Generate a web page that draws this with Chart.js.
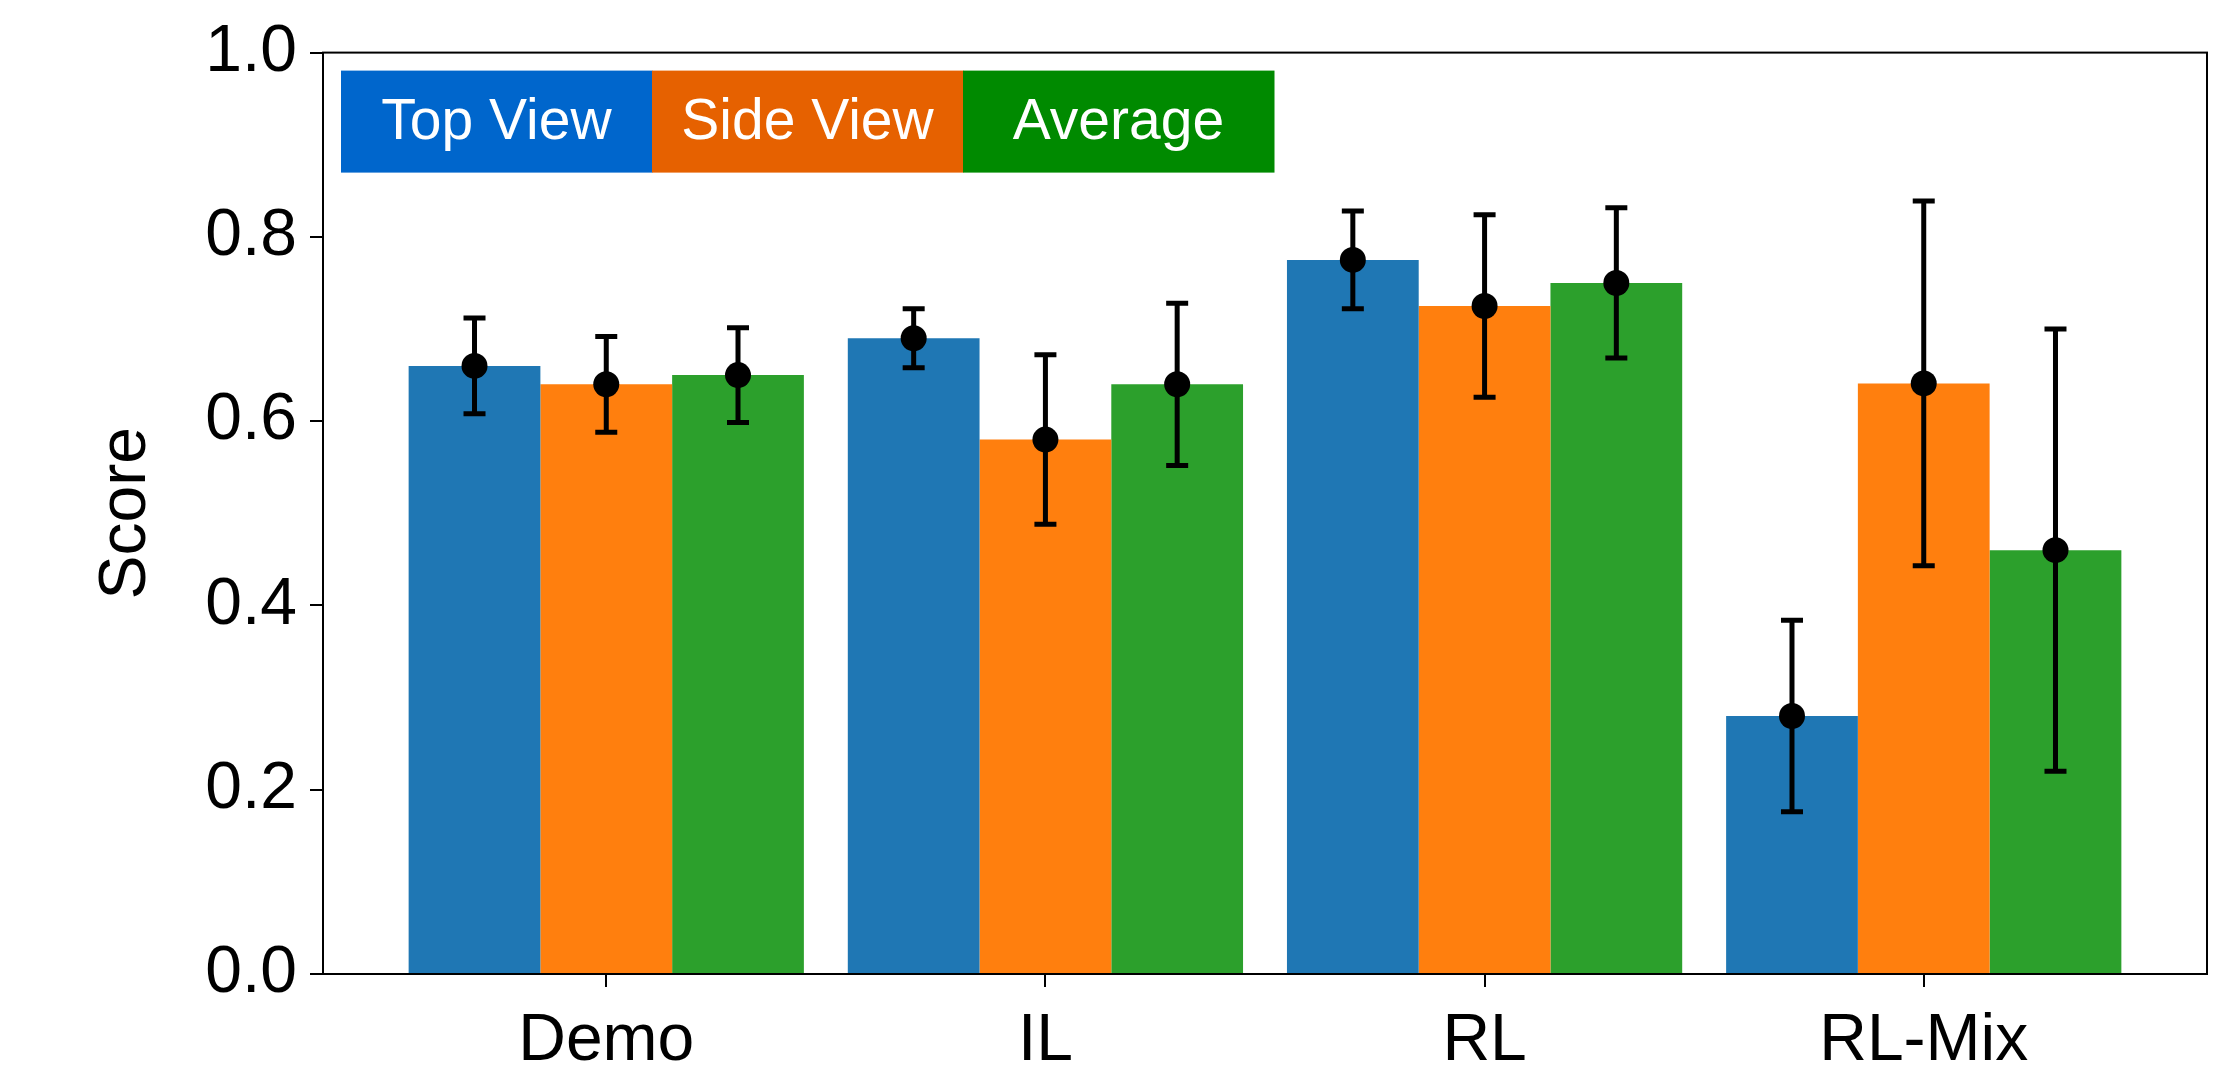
<!DOCTYPE html>
<html>
<head>
<meta charset="utf-8">
<script src="https://cdn.jsdelivr.net/npm/chart.js@4.4.1/dist/chart.umd.min.js"></script>
<style>
  body { margin: 0; background: #fff; }
</style>
</head>
<body>
<canvas id="chart" width="2240" height="1071"></canvas>
<script>
const categories = ["Demo", "IL", "RL", "RL-Mix"];
const seriesNames = ["Top View", "Side View", "Average"];

const topView = [0.66, 0.69, 0.775, 0.28];
const sideView = [0.64, 0.58, 0.725, 0.641];
const average = [0.65, 0.64, 0.75, 0.46];

// half widths of the error bars
const topViewErr = [0.052, 0.032, 0.053, 0.104];
const sideViewErr = [0.052, 0.092, 0.099, 0.198];
const averageErr = [0.0515, 0.088, 0.0815, 0.24];

const yTicks = [0, 0.2, 0.4, 0.6, 0.8, 1.0];

const barColors = ["#1f77b4", "#ff7f0e", "#2ca02c"];
const legendColors = ["#0066cc", "#e66100", "#008a00"];

const seriesValues = [topView, sideView, average];
const seriesErrs = [topViewErr, sideViewErr, averageErr];

const FONT = "'Liberation Sans', Arial, sans-serif";

// error bars + black dots, placed with the chart's own scales
const errorBarPlugin = {
  id: "errorBars",
  afterDatasetsDraw(chart) {
    const ctx = chart.ctx;
    const yScale = chart.scales.y;
    ctx.save();
    ctx.strokeStyle = "#000";
    ctx.fillStyle = "#000";
    ctx.lineWidth = 5;
    chart.data.datasets.forEach((ds, d) => {
      const meta = chart.getDatasetMeta(d);
      meta.data.forEach((bar, i) => {
        const v = seriesValues[d][i];
        const e = seriesErrs[d][i];
        const x = bar.x;
        const yHi = yScale.getPixelForValue(v + e);
        const yLo = yScale.getPixelForValue(v - e);
        const yMid = yScale.getPixelForValue(v);
        ctx.beginPath();
        ctx.moveTo(x, yHi);
        ctx.lineTo(x, yLo);
        ctx.moveTo(x - 11, yHi);
        ctx.lineTo(x + 11, yHi);
        ctx.moveTo(x - 11, yLo);
        ctx.lineTo(x + 11, yLo);
        ctx.stroke();
        ctx.beginPath();
        ctx.arc(x, yMid, 13, 0, Math.PI * 2);
        ctx.fill();
      });
    });
    ctx.restore();
  },
};

// full box around the plot + the coloured legend strip
const frameLegendPlugin = {
  id: "frameLegend",
  afterDraw(chart) {
    const ctx = chart.ctx;
    const a = chart.chartArea;
    ctx.save();
    ctx.strokeStyle = "#000";
    ctx.lineWidth = 2;
    ctx.strokeRect(a.left, a.top, a.right - a.left, a.bottom - a.top);

    const boxW = 311;
    const boxH = 102;
    const x0 = a.left + 18;
    const y0 = a.top + 18;
    ctx.font = "57px " + FONT;
    ctx.textAlign = "center";
    ctx.textBaseline = "middle";
    chart.data.datasets.forEach((ds, d) => {
      ctx.fillStyle = legendColors[d];
      ctx.fillRect(x0 + d * boxW, y0, boxW + 0.5, boxH);
      ctx.fillStyle = "#fff";
      ctx.fillText(ds.label, x0 + d * boxW + boxW / 2, y0 + boxH / 2 + 2);
    });
    ctx.restore();
  },
};

const datasets = seriesNames.map((name, d) => ({
  label: name,
  data: seriesValues[d].map((v, i) => ({ x: i, y: v })),
  backgroundColor: barColors[d],
  borderWidth: 0,
  barPercentage: 1.0,
  categoryPercentage: 0.9,
}));

new Chart(document.getElementById("chart"), {
  type: "bar",
  data: { datasets: datasets },
  plugins: [errorBarPlugin, frameLegendPlugin],
  options: {
    responsive: false,
    animation: false,
    layout: { padding: { left: 0, top: 52, right: 33, bottom: 0 } },
    plugins: {
      legend: { display: false },
      tooltip: { enabled: false },
    },
    scales: {
      x: {
        type: "linear",
        min: -0.645,
        max: 3.645,
        offset: false,
        grid: {
          offset: false,
          drawOnChartArea: false,
          drawTicks: true,
          tickLength: 13,
          color: "#000",
          lineWidth: 2,
        },
        border: { display: true, color: "#000", width: 2 },
        afterBuildTicks: (scale) => {
          scale.ticks = categories.map((c, i) => ({ value: i }));
        },
        afterFit: (scale) => {
          scale.height = 97;
        },
        ticks: {
          color: "#000",
          padding: 15,
          maxRotation: 0,
          autoSkip: false,
          font: { family: FONT, size: 66 },
          callback: (v) => categories[v],
        },
      },
      y: {
        min: 0,
        max: 1,
        afterBuildTicks: (scale) => {
          scale.ticks = yTicks.map((v) => ({ value: v }));
        },
        afterFit: (scale) => {
          scale.width = 323;
        },
        grid: {
          drawOnChartArea: false,
          drawTicks: true,
          tickLength: 13,
          color: "#000",
          lineWidth: 2,
        },
        border: { display: true, color: "#000", width: 2 },
        ticks: {
          color: "#000",
          padding: 13,
          font: { family: FONT, size: 66 },
          callback: (v) => v.toFixed(1),
        },
        title: {
          display: true,
          text: "Score",
          color: "#000",
          padding: { top: 87, bottom: 0 },
          font: { family: FONT, size: 66 },
        },
      },
    },
  },
});
</script>
</body>
</html>
